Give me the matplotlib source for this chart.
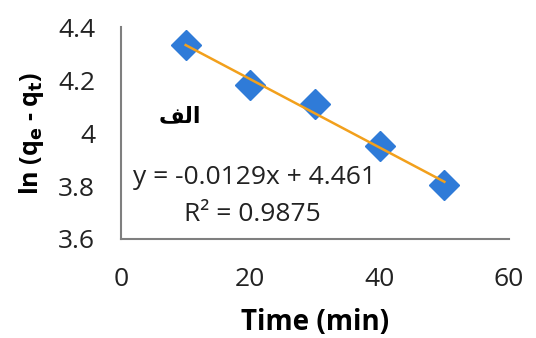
import matplotlib
matplotlib.use("Agg")
import matplotlib.pyplot as plt
import numpy as np

# Kinetic data: ln(qe - qt) versus contact time
time_min = [10, 20, 30, 40, 50]
ln_qe_qt = [4.332, 4.180, 4.110, 3.950, 3.805]

# Linear trendline as reported
slope = -0.0129
intercept = 4.461
r_squared = 0.9875

x_ticks = [0, 20, 40, 60]
y_ticks = [3.6, 3.8, 4.0, 4.2, 4.4]
y_tick_labels = ["3.6", "3.8", "4", "4.2", "4.4"]

plt.rcParams["font.family"] = ["Open Sans", "DejaVu Sans"]

fig = plt.figure(figsize=(5.36, 3.38), dpi=100)
ax = fig.add_axes([0.2257, 0.2929, 0.7240, 0.6271])

ax.plot(time_min, ln_qe_qt, linestyle="none", marker="D", markersize=15,
        color="#2F7BD8", zorder=2)

xs = np.array([time_min[0], time_min[-1]])
ax.plot(xs, slope * xs + intercept, color="#F2A01C", linewidth=1.8, zorder=3)

ax.set_xlim(0, 60)
ax.set_ylim(3.6, 4.4)
ax.set_xticks(x_ticks)
ax.set_yticks(y_ticks)
ax.set_yticklabels(y_tick_labels)
ax.tick_params(axis="both", length=0, labelsize=19, colors="#222222")
ax.tick_params(axis="x", pad=20)
ax.tick_params(axis="y", pad=18.5)

for side in ("top", "right"):
    ax.spines[side].set_visible(False)
for side in ("left", "bottom"):
    ax.spines[side].set_color("#7F7F7F")
    ax.spines[side].set_linewidth(1.5)

ax.set_xlabel("Time (min)", fontsize=20, fontweight="bold", labelpad=12)
ax.set_ylabel(r"ln (q$_\mathbf{e}$ - q$_\mathbf{t}$)", fontsize=18,
              fontweight="bold", labelpad=9)

ax.text(0.475, 0.476, f"y = {slope}x + {intercept}", transform=fig.transFigure,
        fontsize=19, ha="center", va="center", color="#222222")
ax.text(0.470, 0.364, f"R² = {r_squared}", transform=fig.transFigure,
        fontsize=19, ha="center", va="center", color="#222222")

# Panel label "الف" written with Arabic presentation forms in visual order
ax.text(0.336, 0.657, "\uFED2\uFEDF\u0627", transform=fig.transFigure,
        fontsize=16, fontweight="bold", ha="center", va="center",
        family=["DejaVu Sans"])

fig.savefig("out.png", dpi=100)
